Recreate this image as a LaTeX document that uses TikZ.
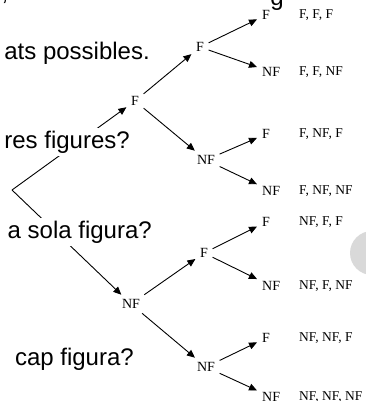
\documentclass[tikz,border=0pt]{standalone}
\usepackage{fontspec}
\setmainfont{Liberation Serif}
\newfontfamily\slidefont{Liberation Sans}
\usetikzlibrary{arrows.meta}

\begin{document}
\begin{tikzpicture}[x=1pt, y=-1pt,
    br/.style={font=\fontsize{14}{14}\selectfont, inner sep=4.5pt},
    leaf/.style={font=\fontsize{14}{14}\selectfont, anchor=west, inner sep=5pt},
    res/.style={font=\fontsize{13.5}{13.5}\selectfont, anchor=west, inner sep=0pt},
    q/.style={font=\slidefont\fontsize{24}{24}\selectfont, anchor=base east, fill=white, inner sep=3pt},
    edge/.style={-{Triangle[length=8pt, width=7pt]}, line width=0.9pt}]
    \useasboundingbox (0,0) rectangle (366,401);
    \clip (0,0) rectangle (366,401);
    % slide background bits
    \fill[gray!30] (372,253) circle (22);
    \node[font=\slidefont\fontsize{24}{24}\selectfont, anchor=base, inner sep=0pt] (topc) at (5,1) {,};
    \node[font=\slidefont\fontsize{24}{24}\selectfont, anchor=base, inner sep=0pt] (topg) at (277,6) {g};
    % tree
    \coordinate (root) at (12,190);
    \node[br] (f) at (135,101) {F};
    \node[br] (n) at (131,304) {NF};
    \node[br] (ff) at (200,47) {F};
    \node[br] (fn) at (206,160) {NF};
    \node[br] (nf) at (204,253) {F};
    \node[br] (nn) at (206,367) {NF};
    \node[leaf] (fff) at (257,15) {F};
    \node[leaf] (ffn) at (257,72) {NF};
    \node[leaf] (fnf) at (257,134) {F};
    \node[leaf] (fnn) at (257,191) {NF};
    \node[leaf] (nff) at (257,222) {F};
    \node[leaf] (nfn) at (257,286) {NF};
    \node[leaf] (nnf) at (257,338) {F};
    \node[leaf] (nnn) at (257,397) {NF};
    \draw[edge] (root) -- (f);
    \draw[edge] (root) -- (n);
    \draw[edge] (f) -- (ff);
    \draw[edge] (f) -- (fn);
    \draw[edge] (n) -- (nf);
    \draw[edge] (n) -- (nn);
    \draw[edge] (ff) -- (fff);
    \draw[edge] (ff) -- (ffn);
    \draw[edge] (fn) -- (fnf);
    \draw[edge] (fn) -- (fnn);
    \draw[edge] (nf) -- (nff);
    \draw[edge] (nf) -- (nfn);
    \draw[edge] (nn) -- (nnf);
    \draw[edge] (nn) -- (nnn);
    % outcomes
    \node[res] (rfff) at (299,15) {F, F, F};
    \node[res] (rffn) at (299,72) {F, F, NF};
    \node[res] (rfnf) at (299,134) {F, NF, F};
    \node[res] (rfnn) at (299,191) {F, NF, NF};
    \node[res] (rnff) at (299,222) {NF, F, F};
    \node[res] (rnfn) at (299,286) {NF, F, NF};
    \node[res] (rnnf) at (299,338) {NF, NF, F};
    \node[res] (rnnn) at (299,397) {NF, NF, NF};
    % slide text on top
    \node[q] (q1) at (153,60) {ats possibles.};
    \node[q] (q2) at (133,148) {res figures?};
    \node[q] (q3) at (155,238) {a sola figura?};
    \node[q] (q4) at (137,365) {cap figura?};
\end{tikzpicture}
\end{document}
